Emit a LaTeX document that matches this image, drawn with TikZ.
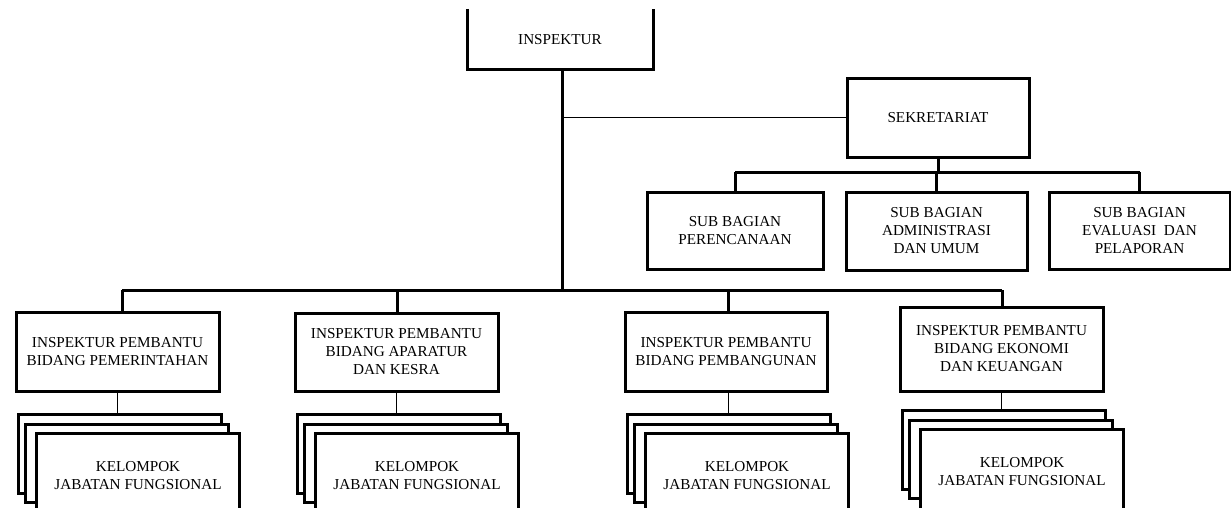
\documentclass[tikz,border=0pt]{standalone}
\usepackage{fontspec}
\setmainfont{Liberation Serif}
\newcommand\kstack[4]{%
  \node[sbox, anchor=north west, minimum width=203pt, minimum height=79pt] (#1a) at (#2,#3) {};
  \node[sbox, anchor=north west, minimum width=203pt, minimum height=78pt] (#1b) at (#2+7,#3+10) {};
  \node[sbox, anchor=north west, minimum width=203pt, minimum height=#4] (#1c) at (#2+18,#3+19) {KELOMPOK\\JABATAN FUNGSIONAL};
}
\begin{document}
\begin{tikzpicture}[x=1pt,y=-1pt,
  heavy/.style={line width=3pt},
  lite/.style={line width=1pt},
  txt/.style={font=\fontsize{15.2}{18}\selectfont, align=center, inner sep=0pt},
  box/.style={txt, draw, line width=3pt, fill=white},
  sbox/.style={box}]
\useasboundingbox (0,0) rectangle (1231,508);
\clip (0,0) rectangle (1231,508);

% INSPEKTUR (open top, cut by the page)
\node[txt] (insp) at (560,40) {INSPEKTUR};
\draw[heavy] (467,9) |- (653,70) -- (653,9);
\coordinate (trunkTop) at (562,70);
\coordinate (trunkBot) at (562,290);
\draw[heavy] (trunkTop) -- (trunkBot);

% SEKRETARIAT
\node[box, minimum width=182pt, minimum height=78pt] (sek) at (938,118) {SEKRETARIAT};
\draw[lite] (sek.west -| trunkTop) -- (sek.west);

% Sub bagian
\node[box, minimum width=176pt, minimum height=77pt] (sb1) at (735,230.5) {SUB BAGIAN\\PERENCANAAN};
\node[box, minimum width=181pt, minimum height=78pt] (sb2) at (936.5,231) {SUB BAGIAN\\ADMINISTRASI\\DAN UMUM};
\node[box, minimum width=181pt, minimum height=77pt] (sb3) at (1139.5,230.5) {SUB BAGIAN\\EVALUASI\ \ DAN\\PELAPORAN};
\coordinate (sbus) at (938,172);
\draw[heavy] (sek.south) -- (sek.south |- sbus);
\draw[heavy] (sb1.north |- sbus) -- (sb3.north |- sbus);
\draw[heavy] (sb1.north |- sbus) -- (sb1.north);
\draw[heavy] (sb2.north |- sbus) -- (sb2.north);
\draw[heavy] (sb3.north |- sbus) -- (sb3.north);

% Inspektur pembantu
\node[box, minimum width=203pt, minimum height=79pt] (ipA) at (117.5,351.5) {INSPEKTUR PEMBANTU\\BIDANG PEMERINTAHAN};
\node[box, minimum width=203pt, minimum height=78pt] (ipB) at (396.5,352) {INSPEKTUR PEMBANTU\\BIDANG APARATUR\\DAN KESRA};
\node[box, minimum width=202pt, minimum height=79pt] (ipC) at (726,351.5) {INSPEKTUR PEMBANTU\\BIDANG PEMBANGUNAN};
\node[box, minimum width=203pt, minimum height=84pt] (ipD) at (1001.5,349) {INSPEKTUR PEMBANTU\\BIDANG EKONOMI\\DAN KEUANGAN};

\coordinate (busA) at (122,290);
\coordinate (busB) at (397,290);
\coordinate (busC) at (728,290);
\coordinate (busD) at (1002,290);
\draw[heavy] (busA) -- (busD);
\draw[heavy] (busA) -- (busA |- ipA.north);
\draw[heavy] (busB) -- (busB |- ipB.north);
\draw[heavy] (busC) -- (busC |- ipC.north);
\draw[heavy] (busD) -- (busD |- ipD.north);

% Kelompok jabatan fungsional stacks
\kstack{kA}{17}{413}{84pt}
\kstack{kB}{296}{413}{84pt}
\kstack{kC}{626}{413}{84pt}
\kstack{kD}{901}{409}{84pt}

\draw[lite] (ipA.south) -- (ipA.south |- kAa.north);
\draw[lite] (ipB.south) -- (ipB.south |- kBa.north);
\draw[lite] (ipC.south -| busC) -- (busC |- kCa.north);
\draw[lite] (ipD.south) -- (ipD.south |- kDa.north);
\end{tikzpicture}
\end{document}
